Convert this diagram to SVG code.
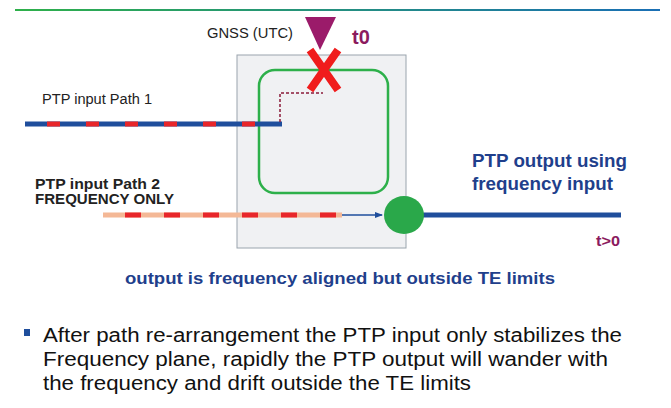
<svg xmlns="http://www.w3.org/2000/svg" width="671" height="408" viewBox="0 0 671 408">
<defs>
<linearGradient id="tl" x1="0" x2="1" y1="0" y2="0"><stop offset="0" stop-color="#2eb04a"/><stop offset="1" stop-color="#1a6fb5"/></linearGradient>
<marker id="ar" markerWidth="8" markerHeight="8" refX="7" refY="4" orient="auto" markerUnits="userSpaceOnUse"><path d="M0,1 L8,4 L0,7 z" fill="#1f4e9c"/></marker>
<style>
text{font-family:"Liberation Sans",Arial,sans-serif}
.lbl{font-size:14px;fill:#222}
.bl{font-weight:bold;fill:#1f3f8c}
.pu{font-weight:bold;fill:#8b1a5e}
.bul{font-size:20px;fill:#111}
</style>
</defs>
<rect width="671" height="408" fill="#fff"/>
<rect x="15" y="9" width="645" height="2" fill="url(#tl)"/>
<g id="box"><rect x="237" y="55" width="169" height="193" fill="#f0f1f3" stroke="#9aa4ad" stroke-width="1"/></g>
<g id="loop"><rect x="259" y="70" width="129" height="123" rx="16" fill="none" stroke="#2db04a" stroke-width="2.5"/></g>
<g id="gnss">
<polygon points="305,17 336,17 320,50" fill="#9b1b6a"/>
<text x="207" y="38" class="lbl" textLength="86" lengthAdjust="spacingAndGlyphs">GNSS (UTC)</text>
<text x="352" y="44" class="pu" font-size="20">t0</text>
</g>
<g id="connectors">
<line x1="25" y1="124" x2="282" y2="124" stroke="#1f4e9c" stroke-width="5"/>
<line x1="47" y1="124" x2="262" y2="124" stroke="#e8262a" stroke-width="5" stroke-dasharray="13,26"/>
<path d="M280,122 V93 H323" fill="none" stroke="#8b1a3a" stroke-width="1.5" stroke-dasharray="3,2"/>
<line x1="103" y1="215" x2="342" y2="215" stroke="#f4b896" stroke-width="5"/>
<line x1="125" y1="215" x2="342" y2="215" stroke="#e8262a" stroke-width="5" stroke-dasharray="16,23"/>
<line x1="342" y1="215" x2="382" y2="215" stroke="#1f4e9c" stroke-width="1.5" marker-end="url(#ar)"/>
<line x1="420" y1="215" x2="621" y2="215" stroke="#1f4e9c" stroke-width="5"/>
</g>
<g id="cross">
<path d="M310,50 L338,90 M338,50 L310,90" stroke="#f01c1c" stroke-width="8" stroke-linecap="butt"/>
</g>
<g id="out"><ellipse cx="404" cy="215" rx="20" ry="19" fill="#2aa84a"/></g>
<g id="labels">
<text x="42" y="104" class="lbl" textLength="110" lengthAdjust="spacingAndGlyphs">PTP input Path 1</text>
<text x="35" y="189" class="lbl" font-weight="bold" fill="#111" textLength="125" lengthAdjust="spacingAndGlyphs">PTP input Path 2</text>
<text x="35" y="204" class="lbl" font-weight="bold" fill="#111" textLength="139" lengthAdjust="spacingAndGlyphs">FREQUENCY ONLY</text>
<text x="472" y="167" class="bl" font-size="18" textLength="155" lengthAdjust="spacingAndGlyphs">PTP output using</text>
<text x="472" y="190" class="bl" font-size="18" textLength="141" lengthAdjust="spacingAndGlyphs">frequency input</text>
<text x="596" y="246" class="pu" font-size="15" textLength="24" lengthAdjust="spacingAndGlyphs">t&gt;0</text>
<text x="125" y="284" class="bl" font-size="17" textLength="430" lengthAdjust="spacingAndGlyphs">output is frequency aligned but outside TE limits</text>
</g>
<g id="bullet">
<rect x="24" y="329" width="6" height="7" fill="#1f4e9c"/>
<text x="43" y="342" class="bul" textLength="579" lengthAdjust="spacingAndGlyphs">After path re-arrangement the PTP input only stabilizes the</text>
<text x="43" y="366" class="bul" textLength="565" lengthAdjust="spacingAndGlyphs">Frequency plane,  rapidly the PTP output will wander with</text>
<text x="43" y="390" class="bul" textLength="428" lengthAdjust="spacingAndGlyphs">the frequency and drift outside the TE limits</text>
</g>
</svg>
